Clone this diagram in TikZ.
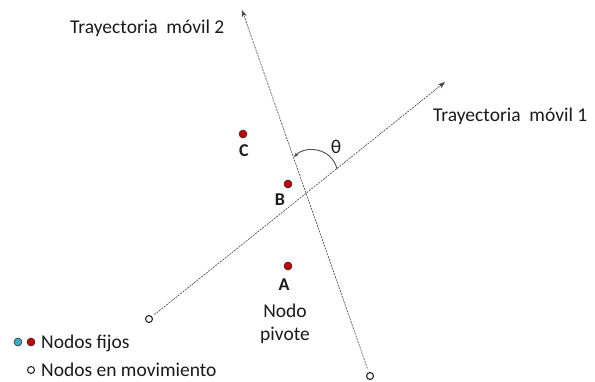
\documentclass[tikz,border=0pt]{standalone}
\usepackage{fontspec}
\setmainfont{Carlito}
\usetikzlibrary{arrows.meta}
\definecolor{fixred}{HTML}{C00000}
\definecolor{fixblue}{HTML}{3FA9C9}
\definecolor{txt}{HTML}{1A1A1A}
\tikzset{
  fixdot/.style={circle,draw=black!80,line width=0.6pt,fill=fixred,inner sep=0pt,minimum size=8pt},
  movdot/.style={circle,draw=black!85,line width=1.1pt,fill=white,inner sep=0pt,minimum size=7pt},
  traj/.style={draw=black!75,line width=0.6pt,dash pattern=on 2pt off 1pt,-{Stealth[length=7pt,width=5pt]}},
  lbl/.style={font=\fontsize{19.5}{24}\selectfont,text=txt,inner sep=0pt},
  blbl/.style={font=\fontsize{18}{20}\selectfont\bfseries,text=txt,inner sep=0pt}
}
\begin{document}
\begin{tikzpicture}[x=1pt,y=-1pt]
\useasboundingbox (0,0) rectangle (595,381);
% trajectories
\node[movdot] (o1) at (149,319) {};
\node[movdot] (o2) at (370,376) {};
\coordinate (t1) at (445,82);
\coordinate (t2) at (242,10);
\draw[traj,shorten <=3pt] (o1) -- (t1);
\draw[traj,shorten <=4pt] (o2) -- (t2);
% fixed nodes
\node[fixdot] (c) at (243,134) {};
\node[fixdot] (b) at (288,184) {};
\node[fixdot] (a) at (288,266) {};
\node[blbl,anchor=base] (lc) at (244,156) {C};
\node[blbl,anchor=base] (lb) at (280,205) {B};
\node[blbl,anchor=base] (la) at (284,290) {A};
\node[lbl,anchor=base] (piv1) at (285,317) {Nodo};
\node[lbl,anchor=base] (piv2) at (285,340) {pivote};
% angle
\coordinate (th1) at (337,169);
\coordinate (th2) at (294,157);
\draw[black!70,line width=0.9pt,-{Stealth[length=5pt,width=4pt]}] (th1) .. controls (332,148) and (306,145) .. (th2);
\node[lbl] (theta) at (336,147) {θ};
% trajectory labels
\node[lbl,anchor=base west] (l2) at (70,33) {Trayectoria\ \ móvil 2};
\node[lbl,anchor=base west] (l1) at (433,121) {Trayectoria\ \ móvil 1};
% legend
\node[fixdot,fill=fixblue] (lgb) at (18,342) {};
\node[fixdot] (lgr) at (31,342) {};
\node[lbl,anchor=base west] (lg1) at (41,348) {Nodos fijos};
\node[movdot] (lgo) at (31,370) {};
\node[lbl,anchor=base west] (lg2) at (41,376) {Nodos en movimiento};
\end{tikzpicture}
\end{document}
